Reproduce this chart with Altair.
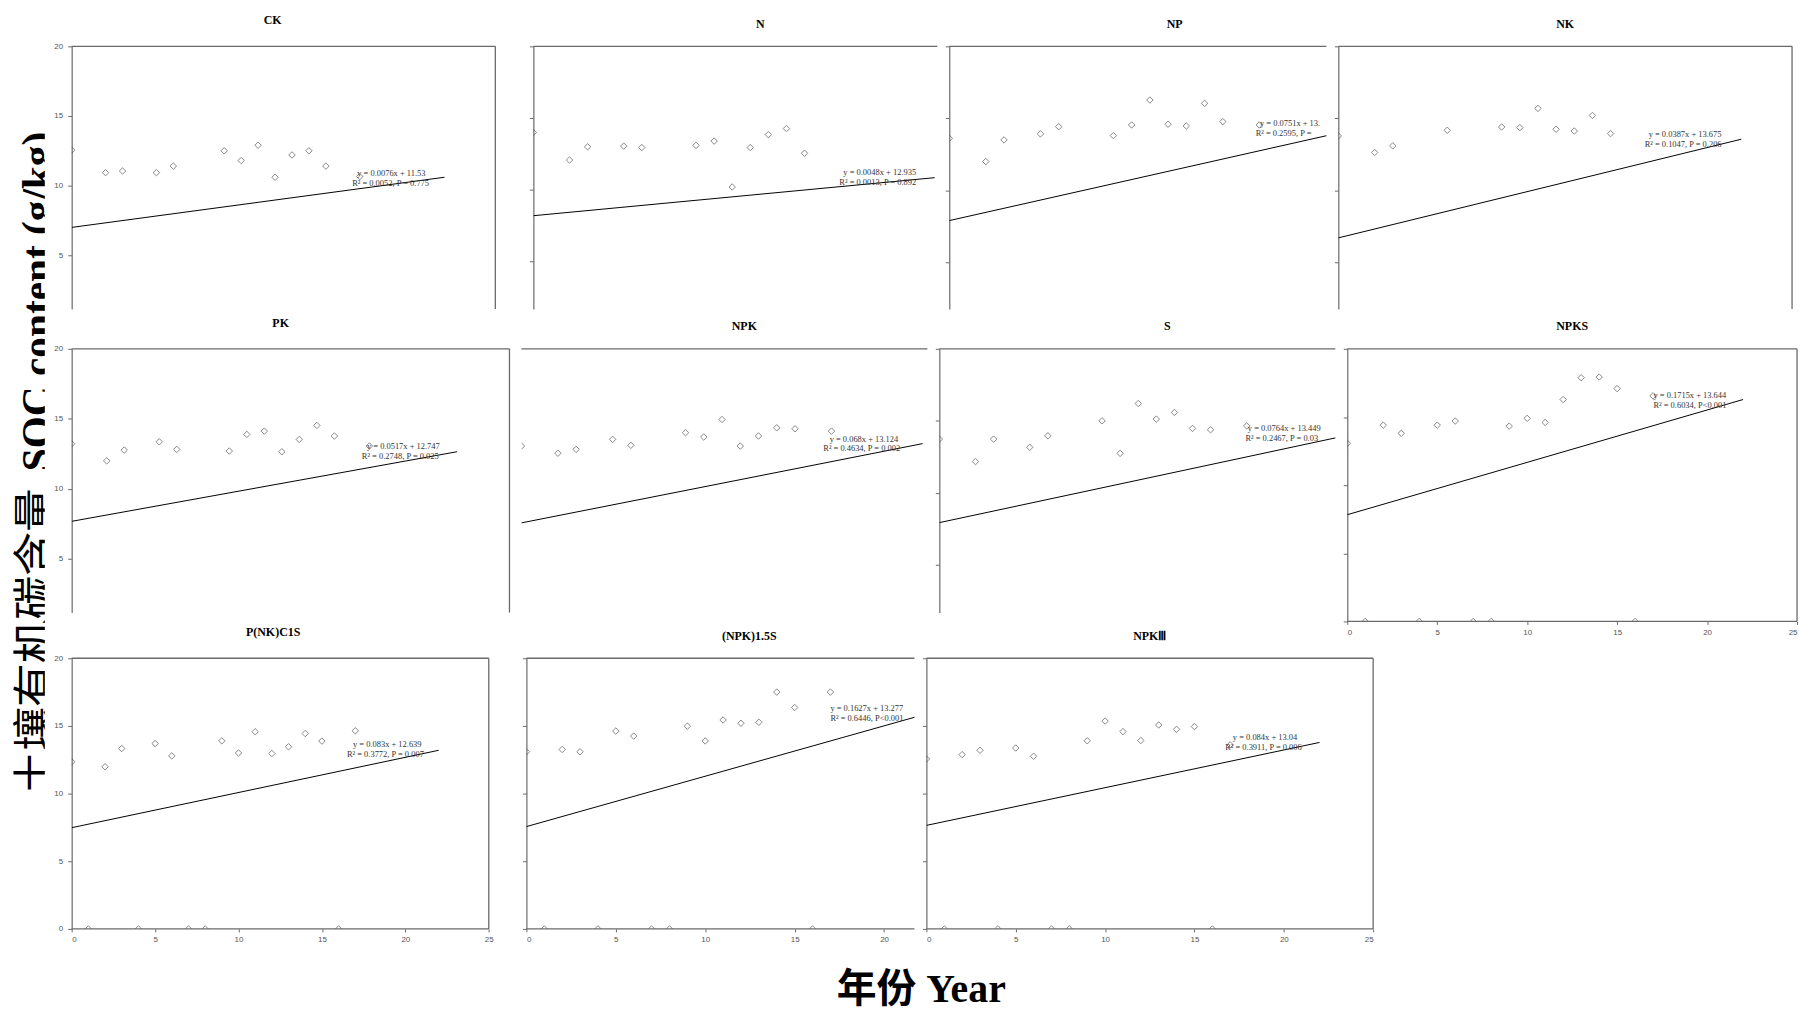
import altair as alt
import pandas as pd

# ---------------- data ----------------
YEARS = list(range(18))
TREATMENTS = ["CK", "N", "NP", "NK", "PK", "NPK", "S", "NPKS",
              "P(NK)C1S", "(NPK)1.5S", "NPKⅢ"]

SOC_CK = [12.55, 0, 10.93, 11.05, 0, 10.93, 11.4, 0, 0, 12.5, 11.8, 12.9, 10.6, 12.2, 12.5, 11.4, 0, 10.65]
SOC_N = [14.0, 0, 12.08, 13.0, 0, 13.05, 12.95, 0, 0, 13.1, 13.4, 10.2, 12.95, 13.85, 14.27, 12.55, 0, None]
SOC_NP = [13.62, 0, 12.0, 13.5, 0, 13.92, 14.42, 0, 0, 13.8, 14.54, 16.27, 14.59, 14.47, 16.04, 14.77, 0, 14.54]
SOC_NK = [13.78, 0, 12.63, 13.09, 0, None, 14.17, 0, 0, 14.4, 14.35, 15.69, 14.24, 14.12, 15.2, 13.94, 0, None]
SOC_PK = [13.22, 0, 12.0, 12.77, 0, 13.36, 12.82, 0, 0, 12.7, 13.89, 14.12, 12.65, 13.53, 14.53, 13.77, 0, 13.06]
SOC_NPK = [13.23, 0, 12.73, 13.0, 0, 13.7, 13.28, 0, 0, 14.16, 13.86, 15.08, 13.23, 13.93, 14.5, 14.43, 0, 14.27]
SOC_S = [13.73, 0, 12.17, 13.73, 0, 13.16, 13.96, 0, 0, 15.0, 12.74, 16.2, 15.12, 15.58, 14.47, 14.38, 0, 14.65]
SOC_NPKS = [13.07, 0, 14.4, 13.8, 0, 14.4, 14.7, 0, 0, 14.33, 14.9, 14.6, 16.28, 17.88, 17.93, 17.08, 0, 16.55]
SOC_PNKC1S = [12.35, 0, 11.98, 13.33, 0, 13.7, 12.79, 0, 0, 13.9, 13.0, 14.57, 12.96, 13.46, 14.44, 13.88, 0, 14.64]
SOC_NPK15S = [13.09, 0, 13.26, 13.09, 0, 14.62, 14.25, 0, 0, 14.98, 13.89, 15.44, 15.2, 15.27, 17.5, 16.36, 0, 17.5]
SOC_NPKM = [12.56, 0, 12.88, 13.2, 0, 13.37, 12.76, 0, 0, 13.9, 15.36, 14.58, 13.92, 15.07, 14.75, 14.95, 0, 13.6]

SOC = [SOC_CK, SOC_N, SOC_NP, SOC_NK, SOC_PK, SOC_NPK, SOC_S, SOC_NPKS,
       SOC_PNKC1S, SOC_NPK15S, SOC_NPKM]

# trend line: value at year 0, end year, value at end year
TREND_Y0 = [7.0, 8.2, 7.9, 6.7, 7.68, 7.88, 7.93, 7.83, 7.48, 7.56, 7.65]
TREND_X1 = [22.0, 22.2, 22.0, 22.2, 22.0, 22.0, 22.0, 22.0, 22.0, 22.0, 22.0]
TREND_Y1 = [10.6, 10.85, 14.17, 13.55, 12.65, 13.4, 13.84, 16.28, 13.2, 15.75, 13.78]

EQ_LINE1 = ["y = 0.0076x + 11.53", "y = 0.0048x + 12.935", "y = 0.0751x + 13.",
            "y = 0.0387x + 13.675", "y = 0.0517x + 12.747", "y = 0.068x + 13.124",
            "y = 0.0764x + 13.449", "y = 0.1715x + 13.644", "y = 0.083x + 12.639",
            "y = 0.1627x + 13.277", "y = 0.084x + 13.04"]
EQ_LINE2 = ["R² = 0.0052, P = 0.775", "R² = 0.0013, P = 0.892", "R² = 0.2595, P = ",
            "R² = 0.1047, P = 0.206", "R² = 0.2748, P = 0.025", "R² = 0.4634, P = 0.002",
            "R² = 0.2467, P = 0.03", "R² = 0.6034, P<0.001", "R² = 0.3772, P = 0.007",
            "R² = 0.6446, P<0.001", "R² = 0.3911, P = 0.006"]

Y_TITLE_CJK = "土壤有机碳含量"
Y_TITLE_LAT = "SOC content (g/kg)"
X_TITLE = "年份 Year"

# ---------------- layout (sizes, domains, positions) ----------------
LAYOUT = [
    dict(w=452, h=264, xmax=26.54, ymin=1.14, ylab=True, xax=False, lax=True, dx=-24, ep=(16.85, 10.9, 16.55, 10.2)),
    dict(w=406, h=264, xmax=22.35, ymin=1.70, ylab=False, xax=False, lax=True, dx=25, ep=(17.15, 11.22, 16.93, 10.53)),
    dict(w=379, h=264, xmax=20.68, ymin=1.76, ylab=False, xax=False, lax=True, dx=37, ep=(17.04, 14.7, 16.8, 13.97)),
    dict(w=456, h=264, xmax=25.0, ymin=1.76, ylab=False, xax=False, lax=True, dx=0, ep=(17.1, 13.9, 16.88, 13.2)),
    dict(w=440, h=265, xmax=25.0, ymin=1.17, ylab=True, xax=False, lax=True, dx=-10, ep=(16.86, 13.03, 16.57, 12.35)),
    dict(w=408, h=265, xmax=22.26, ymin=1.64, ylab=False, xax=False, lax=False, dx=20, ep=(16.9, 13.74, 16.55, 13.07)),
    dict(w=398, h=265, xmax=21.9, ymin=1.69, ylab=False, xax=False, lax=True, dx=30, ep=(17.06, 14.47, 16.93, 13.78)),
    dict(w=452, h=274, xmax=25.0, ymin=0.0, ylab=False, xax=True, lax=True, dx=0, ep=(17.02, 16.6, 17.02, 15.9)),
    dict(w=445, h=272, xmax=26.54, ymin=0.0, ylab=True, xax=True, lax=True, dx=-20, ep=(16.86, 13.65, 16.5, 12.9)),
    dict(w=390, h=272, xmax=21.7, ymin=0.0, ylab=False, xax=True, lax=True, dx=29, ep=(17.0, 16.31, 17.0, 15.58)),
    dict(w=449, h=272, xmax=25.0, ymin=0.0, ylab=False, xax=True, lax=True, dx=0, ep=(17.15, 14.16, 16.72, 13.43)),
]

FRAME_COLOR = "#6a6a6a"
LABEL_FONT = "Liberation Sans"


def panel(i):
    L = LAYOUT[i]
    xmax, ymin = L["xmax"], L["ymin"]
    xs = alt.Scale(domain=[0, xmax], nice=False, zero=False)
    ys = alt.Scale(domain=[ymin, 20], nice=False, zero=False)
    yvals = [v for v in [0, 5, 10, 15, 20] if v >= ymin]
    yaxis = alt.Axis(values=yvals, labels=L["ylab"], ticks=L["lax"], domain=L["lax"],
                     tickSize=4, labelPadding=5, labelFontSize=8, labelFont=LABEL_FONT,
                     labelColor="#555", tickColor=FRAME_COLOR, domainColor=FRAME_COLOR,
                     domainWidth=1.2, grid=False, title=None, format="d")
    if L["xax"]:
        xaxis = alt.Axis(values=[v for v in [0, 5, 10, 15, 20, 25] if v <= xmax],
                         domain=False, tickSize=3, labelPadding=4, labelFontSize=8,
                         labelFont=LABEL_FONT, labelColor="#555", tickColor=FRAME_COLOR,
                         grid=False, title=None, format="d")
    else:
        xaxis = None

    def X(field):
        return alt.X(field, scale=xs, axis=xaxis)

    def Y(field):
        return alt.Y(field, scale=ys, axis=yaxis)

    pts_df = pd.DataFrame({"year": YEARS, "soc": SOC[i]}).dropna()
    pts = alt.Chart(pts_df).mark_point(
        shape="diamond", filled=False, size=42, strokeWidth=0.9, color="#444", clip=True
    ).encode(x=X("year:Q"), y=Y("soc:Q"))

    tr_df = pd.DataFrame({"year": [0.0, TREND_X1[i]], "soc": [TREND_Y0[i], TREND_Y1[i]]})
    trend = alt.Chart(tr_df).mark_line(color="black", strokeWidth=1, clip=True).encode(
        x=X("year:Q"), y=Y("soc:Q")
    )

    ep = L["ep"]
    eq_df = pd.DataFrame({"year": [ep[0], ep[2]], "soc": [ep[1], ep[3]],
                          "t": [EQ_LINE1[i], EQ_LINE2[i]]})
    eq = alt.Chart(eq_df).mark_text(
        align="left", baseline="middle", font="Liberation Serif", fontSize=8.5,
        color="#333", clip=True
    ).encode(x=X("year:Q"), y=Y("soc:Q"), text="t:N")

    xr = min(25.0, xmax)
    fx, fx2, fy, fy2 = [0.0], [xr], [20.0], [20.0]
    if xmax >= 25:
        fx.append(25.0); fx2.append(25.0); fy.append(ymin); fy2.append(20.0)
    if L["xax"]:
        fx.append(0.0); fx2.append(xr); fy.append(0.0); fy2.append(0.0)
    fr_df = pd.DataFrame({"year": fx, "x2": fx2, "soc": fy, "y2": fy2})
    frame = alt.Chart(fr_df).mark_rule(color=FRAME_COLOR, strokeWidth=1.3).encode(
        x=X("year:Q"), x2="x2:Q", y=Y("soc:Q"), y2="y2:Q"
    )

    return alt.layer(pts, trend, eq, frame).properties(
        width=L["w"], height=L["h"],
        title=alt.TitleParams(TREATMENTS[i], fontSize=12, font="Liberation Serif",
                              fontWeight="bold", offset=15, dx=L["dx"], frame="group",
                              anchor="middle", color="black"),
    )


row1 = alt.hconcat(*[panel(i) for i in range(0, 4)], spacing=12, bounds="flush")
row2 = alt.hconcat(*[panel(i) for i in range(4, 8)], spacing=12, bounds="flush")
row3 = alt.hconcat(*[panel(i) for i in range(8, 11)], spacing=12, bounds="flush")
lower = alt.vconcat(row2, row3, spacing=-10)
grid = alt.vconcat(row1, lower, spacing=7)

cjk = alt.Chart(pd.DataFrame({"t": [Y_TITLE_CJK]})).mark_text(
    angle=270, align="left", baseline="alphabetic", font="Noto Sans CJK SC",
    fontSize=44, color="black", clip=True
).encode(text="t:N", x=alt.value(38), y=alt.value(752))
lat = alt.Chart(pd.DataFrame({"t": [Y_TITLE_LAT]})).mark_text(
    angle=270, align="left", baseline="alphabetic", font="Liberation Serif",
    fontWeight="bold", fontSize=41.5, color="black", clip=True
).encode(text="t:N", x=alt.value(38), y=alt.value(427))
ytitle = alt.layer(cjk, lat).properties(width=32, height=880)

chart = alt.hconcat(ytitle, grid, spacing=9).properties(
    title=alt.TitleParams(X_TITLE, orient="bottom", fontSize=40,
                          font="Liberation Serif, 'Noto Sans CJK SC'", fontWeight="bold",
                          anchor="middle", offset=26, dx=16, color="black"),
    padding={"left": 5, "top": 4, "right": 5, "bottom": 5},
).configure_view(strokeWidth=0, stroke="transparent")

chart.save("out.html", embed_options={"renderer": "svg", "actions": False})
